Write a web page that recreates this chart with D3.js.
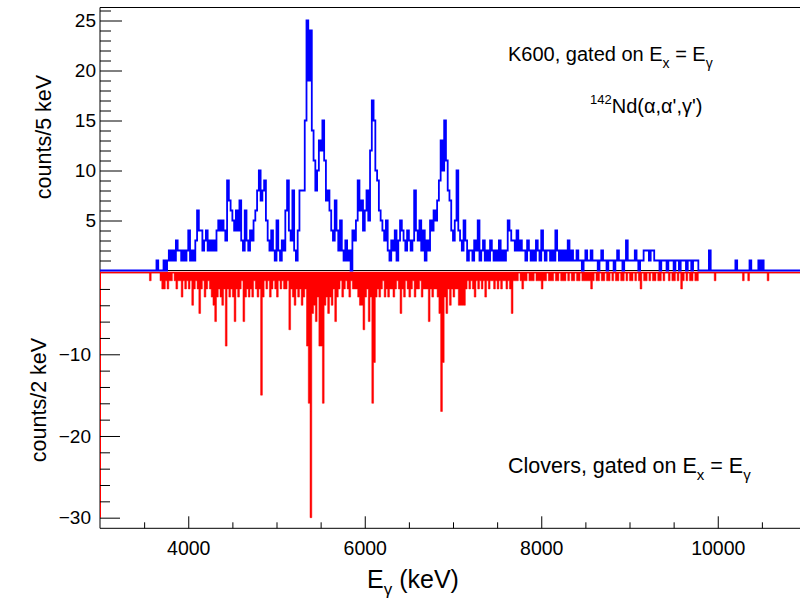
<!DOCTYPE html>
<html>
<head>
<title>K600 / clover gamma spectra</title>
<script src="https://d3js.org/d3.v7.min.js"></script>
<style>
    body { margin: 0; background: #fff; }
    svg text { font-family: "Liberation Sans", Arial, Helvetica, sans-serif; fill: #000; }
</style>
</head>
<body>
<svg id="chart"></svg>
<script>

var width = 800;
var height = 599;

// x range of both pads (keV)
var xMin = 3000, xMax = 11000;

// K600 gated spectrum, counts per bin, first bin edge and bin width in keV
var k600Start = 3600;
var k600Bin = 20;
var k600Counts = [
    0,0,1,0,0,0,1,0,1,2,
    1,2,1,3,2,2,1,2,1,2,
    4,1,2,1,3,6,4,4,2,3,
    4,2,3,2,3,2,4,5,4,5,
    4,3,9,7,6,5,4,6,4,7,
    3,2,6,3,2,4,3,5,6,8,
    10,7,8,9,5,3,2,4,2,1,
    5,2,1,3,2,6,9,4,3,8,
    2,1,4,8,8,8,15,25,19,24,
    14,11,8,10,13,12,15,11,7,8,
    6,4,3,7,4,2,5,2,1,3,
    1,2,0,4,3,5,9,6,7,4,
    6,8,5,12,17,15,10,9,6,5,
    4,3,5,2,1,3,2,4,1,3,
    5,4,3,2,4,3,2,3,8,4,
    3,5,2,4,1,3,2,5,4,6,
    5,7,9,13,10,15,11,8,7,4,
    3,5,10,4,3,2,5,3,1,2,
    2,1,3,2,5,1,2,3,1,2,
    1,3,2,1,2,1,3,1,2,1,
    2,5,4,3,3,2,4,2,3,2,
    2,1,3,2,1,2,1,3,2,1,
    4,2,1,2,2,1,2,1,4,2,
    1,2,1,2,1,3,1,2,1,1,
    2,1,1,0,1,2,1,1,2,1,
    1,1,0,1,2,1,1,0,1,1,
    1,0,1,2,1,1,0,1,3,1,
    1,1,1,2,1,0,1,1,2,2,
    2,1,2,2,1,1,1,0,1,1,
    1,0,1,1,1,0,1,1,0,1,
    1,1,0,1,1,0,1,1,1,0,
    0,0,0,0,0,2,0,0,0,0,
    0,0,0,0,0,0,0,0,0,0,
    1,0,0,0,0,0,0,0,1,0,
    0,0,0,1,0,1,0,0,0,0
];

// Clover gated spectrum, drawn negative
var cloverStart = 3500;
var cloverBin = 20;
var cloverCounts = [
    0,0,0,-1,0,0,0,0,0,-1,
    -2,-2,-1,-2,-1,-1,0,-1,-2,-1,
    -1,-3,-1,-2,-1,-2,-1,-4,-2,-1,
    -2,-5,-2,-1,-3,-2,-1,-2,-3,-4,
    -6,-3,-2,-3,-4,-2,-9,-2,-3,-2,
    -3,-6,-2,-3,-2,-1,-6,-3,-2,-3,
    -2,-3,-1,-2,-3,-2,-15,-3,-1,-2,
    -1,-3,-2,-1,-2,-3,-1,-2,-1,-2,
    -2,-1,-7,-2,-3,-4,-2,-3,-2,-4,
    -3,-2,-9,-16,-30,-5,-4,-6,-3,-9,
    -9,-16,-4,-3,-5,-3,-4,-2,-6,-3,
    -2,-1,-3,-2,-1,-2,-3,-1,-2,-2,
    -2,-3,-4,-4,-7,-3,-2,-6,-3,-16,
    -11,-3,-2,-3,-2,-1,-3,-2,-3,-2,
    -2,-3,-2,-1,-2,-5,-2,-3,-1,-2,
    -3,-2,-1,-3,-2,-2,-1,-3,-2,-2,
    -2,-6,-2,-3,-2,-2,-3,-5,-17,-11,
    -3,-5,-2,-4,-2,-3,-2,-2,-4,-4,
    -4,-4,-2,-1,-2,-1,-2,-3,-1,-2,
    -1,-2,-1,-3,-1,-2,-1,-1,-2,-1,
    -2,-1,-2,-1,-1,-2,-1,-2,-5,-1,
    -1,-1,0,-1,-2,-1,-1,0,-1,-1,
    -1,0,-1,-1,-1,-2,-1,-1,0,-1,
    -1,-1,0,-1,-1,0,-1,-1,-1,0,
    -1,0,-1,-1,0,-1,-1,0,-1,-1,
    -1,-1,-1,-2,-1,0,-1,-1,0,-1,
    -1,0,-1,-1,0,-1,0,-1,-1,0,
    -1,-1,0,-1,0,-1,-1,0,-1,0,
    -1,-2,0,-1,-1,0,-1,0,-1,-1,
    0,-1,-1,0,-1,0,0,-1,0,-1,
    -1,0,-1,0,-2,-1,0,-1,0,-1,
    -1,0,-1,-1,0,0,0,0,0,0,
    0,0,0,-1,0,0,0,0,0,0,
    0,0,0,0,0,0,0,0,0,-1,
    0,0,-1,0,0,0,0,0,0,0,
    0,0,0,-1,0,0,0,0,0,0
];

var xMajorTicks = [4000, 6000, 8000, 10000];
var topMajorTicks = [5, 10, 15, 20, 25];
var bottomMajorTicks = [-10, -20, -30];

var svg = d3.select("#chart")
    .attr("width", width)
    .attr("height", height);

var x = d3.scaleLinear().domain([xMin, xMax]).range([100, 806]);
var yTop = d3.scaleLinear().domain([0, 26.3]).range([270.5, 7.5]);
var yBot = d3.scaleLinear().domain([-31.3, 0]).range([528.3, 272.6]);

// histogram outline points (ROOT "HIST" style)
function steps(start, bin, vals) {
    var pts = [[xMin, 0], [start, 0]];
    vals.forEach(function(v, i) {
        pts.push([start + i * bin, v]);
        pts.push([start + (i + 1) * bin, v]);
    });
    pts.push([start + vals.length * bin, 0]);
    pts.push([xMax, 0]);
    return pts;
}

// frames
var frame = svg.append("g").attr("stroke", "#000").attr("stroke-width", 1).attr("fill", "none");
frame.append("line").attr("x1", 100).attr("x2", 806).attr("y1", 7.5).attr("y2", 7.5);
frame.append("line").attr("x1", 100).attr("x2", 100).attr("y1", 7.5).attr("y2", 528.3);
frame.append("line").attr("x1", 100).attr("x2", 806).attr("y1", 270.5).attr("y2", 270.5);
frame.append("line").attr("x1", 100).attr("x2", 806).attr("y1", 272.6).attr("y2", 272.6);
frame.append("line").attr("x1", 100).attr("x2", 806).attr("y1", 528.3).attr("y2", 528.3);

// red (clover) histogram
var redPts = steps(cloverStart, cloverBin, cloverCounts);
svg.append("path")
    .datum(redPts)
    .attr("fill", "#ff0000")
    .attr("stroke", "#ff0000")
    .attr("stroke-width", 0.5)
    .attr("d", d3.area()
        .x(function(d) { return x(d[0]); })
        .y0(yBot(0))
        .y1(function(d) { return yBot(d[1]); }));

svg.append("line")
    .attr("x1", x(xMin) + 0.5).attr("x2", x(xMin) + 0.5)
    .attr("y1", yBot(0)).attr("y2", yBot(-30))
    .attr("stroke", "#ff0000").attr("stroke-width", 1);

svg.append("line")
    .attr("x1", 100).attr("x2", 806)
    .attr("y1", yBot(0)).attr("y2", yBot(0))
    .attr("stroke", "#ff0000").attr("stroke-width", 1.5);

// blue (K600) histogram
var bluePts = steps(k600Start, k600Bin, k600Counts);
svg.append("path")
    .datum(bluePts)
    .attr("fill", "none")
    .attr("stroke", "#0000ff")
    .attr("stroke-width", 1.8)
    .attr("d", d3.line()
        .x(function(d) { return x(d[0]); })
        .y(function(d) { return yTop(d[1]); }));

// axes
function styleAxis(g, size) {
    g.select(".domain").remove();
    g.selectAll("text").style("font-size", size + "px");
}

svg.append("g")
    .attr("transform", "translate(100,0)")
    .call(d3.axisLeft(yTop).tickValues(topMajorTicks).tickSize(-22).tickPadding(4))
    .call(styleAxis, 19);

svg.append("g")
    .attr("transform", "translate(100,0)")
    .call(d3.axisLeft(yTop).tickValues(d3.range(1, 27).filter(function(v) { return v % 5 != 0; }))
        .tickSize(-11).tickFormat(""))
    .call(styleAxis, 19);

svg.append("g")
    .attr("transform", "translate(100,0)")
    .call(d3.axisLeft(yBot).tickValues(bottomMajorTicks).tickSize(-20).tickPadding(9))
    .call(styleAxis, 19);

svg.append("g")
    .attr("transform", "translate(100,0)")
    .call(d3.axisLeft(yBot).tickValues(d3.range(-2, -31, -2).filter(function(v) { return v % 10 != 0; }))
        .tickSize(-10).tickFormat(""))
    .call(styleAxis, 19);

svg.append("g")
    .attr("transform", "translate(0,528.3)")
    .call(d3.axisBottom(x).tickValues(xMajorTicks).tickSize(-12).tickPadding(13).tickFormat(d3.format("d")))
    .call(styleAxis, 19.5);

svg.append("g")
    .attr("transform", "translate(0,528.3)")
    .call(d3.axisBottom(x).tickValues(d3.range(3500, 11000, 500).filter(function(v) { return v % 2000 != 0; }))
        .tickSize(-6).tickFormat(""))
    .call(styleAxis, 19);

// titles
svg.append("text")
    .attr("transform", "translate(51,137) rotate(-90)")
    .attr("text-anchor", "middle")
    .style("font-size", "21.5px")
    .text("counts/5 keV");

svg.append("text")
    .attr("transform", "translate(46,400) rotate(-90)")
    .attr("text-anchor", "middle")
    .style("font-size", "21.5px")
    .text("counts/2 keV");

var xt = svg.append("text")
    .attr("x", 413).attr("y", 588)
    .attr("text-anchor", "middle")
    .style("font-size", "25px");
xt.append("tspan").text("E");
xt.append("tspan").attr("dy", 7).style("font-size", "17px").text("γ");
xt.append("tspan").attr("dy", -7).text(" (keV)");

function gateLabel(tx, ty, size, lead) {
    var t = svg.append("text").attr("x", tx).attr("y", ty).style("font-size", size + "px");
    var sub = Math.round(size * 0.7);
    t.append("tspan").text(lead + ", gated on E");
    t.append("tspan").attr("dy", 7).style("font-size", sub + "px").text("x");
    t.append("tspan").attr("dy", -7).text(" = E");
    t.append("tspan").attr("dy", 7).style("font-size", sub + "px").text("γ");
}
gateLabel(508, 61, 20, "K600");
gateLabel(508, 473, 21.5, "Clovers");

var nd = svg.append("text").attr("x", 590).attr("y", 113).style("font-size", "20px");
nd.append("tspan").attr("dy", -9).style("font-size", "13px").text("142");
nd.append("tspan").attr("dy", 9).text("Nd(α,α',γ')");

</script>
</body>
</html>
